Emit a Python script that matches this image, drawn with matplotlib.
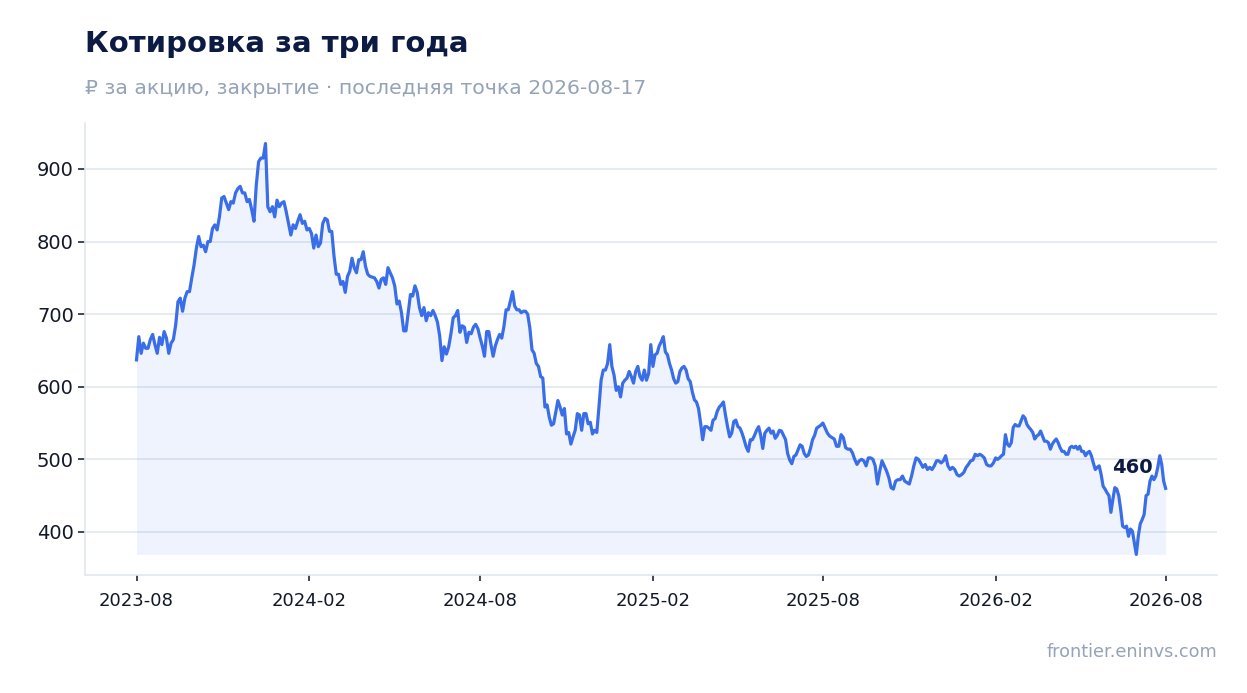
import matplotlib
matplotlib.use("Agg")
import matplotlib.pyplot as plt
import numpy as np
import pandas as pd

# закрытия по полугодиям (примерно каждые 2-3 дня)
bounds = ["2023-08-17", "2024-02-17", "2024-08-17", "2025-02-17",
          "2025-08-17", "2026-02-17", "2026-08-17"]

h1 = [637, 669, 646, 660, 653, 653, 665, 672, 658, 646,
      668, 658, 676, 667, 646, 660, 665, 685, 717, 722,
      704, 722, 731, 731, 750, 768, 791, 807, 793, 795,
      786, 800, 800, 818, 823, 816, 834, 860, 862, 853,
      844, 855, 853, 867, 873, 876, 867, 867, 855, 858,
      844, 828, 878, 910, 915, 915, 935, 848, 841, 848,
      834, 857, 848, 853, 855, 841, 825, 809, 823, 818,
      828, 837, 825, 828, 816]
h2 = [818, 811, 791, 809, 793, 798, 825, 832, 830, 814,
      814, 780, 755, 755, 741, 745, 730, 752, 759, 777,
      764, 757, 775, 775, 786, 766, 755, 752, 751, 750,
      745, 736, 748, 750, 741, 764, 757, 750, 739, 714,
      718, 702, 677, 677, 702, 727, 725, 739, 730, 709,
      698, 709, 691, 702, 698, 705, 698, 689, 670, 636,
      655, 645, 655, 673, 695, 698, 705, 675, 684, 682,
      661, 675, 673, 682, 686, 680]
h3 = [667, 656, 642, 676, 676, 658, 642, 656, 665, 672,
      667, 683, 706, 706, 718, 731, 711, 706, 706, 702,
      704, 704, 700, 681, 651, 646, 632, 628, 614, 612,
      572, 575, 558, 547, 549, 565, 581, 572, 561, 570,
      535, 537, 521, 531, 540, 563, 561, 540, 563, 563,
      549, 551, 535, 540, 537, 572, 609, 623, 623, 632,
      658, 628, 616, 595, 600, 586, 605, 609, 612, 621,
      614, 605, 621, 628, 614, 609, 623, 609, 618, 658]
h4 = [628, 644, 646, 656, 662,
      669, 648, 644, 632, 623, 611, 605, 607, 621, 626,
      628, 623, 611, 607, 593, 582, 579, 570, 550, 527,
      545, 545, 543, 540, 554, 556, 566, 572, 575, 579,
      561, 545, 531, 536, 552, 554, 545, 543, 536, 527,
      517, 511, 527, 527, 533, 540, 545, 533, 515, 536,
      540, 543, 536, 539, 529, 533, 540, 539, 533, 527,
      508, 499, 494, 504, 506, 513, 520, 518, 508, 504,
      506, 515, 527, 533, 543, 545, 547]
h5 = [550, 543, 536,
      532, 530, 528, 518, 518, 534, 530, 516, 514, 514,
      509, 500, 493, 498, 500, 498, 491, 502, 502, 500,
      491, 466, 484, 498, 491, 484, 475, 461, 459, 470,
      472, 472, 477, 470, 468, 466, 477, 491, 502, 500,
      495, 489, 493, 486, 489, 486, 491, 498, 498, 495,
      498, 505, 491, 486, 489, 486, 479, 477, 479, 482,
      489, 493, 498, 499, 507, 505, 507, 505, 502, 493,
      491, 491, 495]
h6 = [502, 500, 502, 505, 507, 534, 521, 518, 523,
      544, 548, 546, 546, 553, 560, 557, 548, 544, 541,
      537, 528, 532, 534, 539, 532, 525, 525, 523, 514,
      521, 525, 528, 523, 516, 511, 511, 507, 507, 516,
      518, 516, 518, 514, 518, 511, 511, 505, 509, 511,
      505, 495, 486, 489, 491, 479, 463, 459, 454, 450,
      427, 445, 461, 459, 450, 431, 408, 406, 408, 394,
      404, 401, 385, 369, 394, 411, 417, 424, 450, 452,
      470, 477, 472, 477, 489, 505, 493, 470, 460]

halves = [h1, h2, h3, h4, h5, h6]
tick_labels = ["2023-08", "2024-02", "2024-08", "2025-02", "2025-08", "2026-02", "2026-08"]

edges = pd.to_datetime(bounds)
dates = []
prices = []
for i, h in enumerate(halves):
    last = i == len(halves) - 1
    rng = pd.date_range(edges[i], edges[i + 1], periods=len(h) + (0 if last else 1))
    if not last:
        rng = rng[:-1]
    dates.extend(rng)
    prices.extend(h)
dates = pd.DatetimeIndex(dates)
prices = np.array(prices, dtype=float)

navy = "#0c1b44"
grey = "#94a3b8"
blue = "#3a6ee8"
gridc = "#e2e8f0"

fig = plt.figure(figsize=(12.47, 6.93), dpi=100)
ax = fig.add_axes([0.0682, 0.1703, 0.9078, 0.6522])

ax.fill_between(dates, prices, prices.min(), color=blue, alpha=0.08, lw=0)
ax.plot(dates, prices, color=blue, lw=2.3, solid_joinstyle="round")

ax.annotate(f"{prices[-1]:.0f}", (dates[-1], prices[-1]), xytext=(-9, 15),
            textcoords="offset points", ha="right", va="center",
            fontsize=14, fontweight="bold", color=navy)

ax.set_xticks(edges)
ax.set_xticklabels(tick_labels)
ax.tick_params(axis="x", labelsize=13, colors="#1f2937", length=4, width=1.2, pad=8)
ax.tick_params(axis="y", labelsize=14, colors="#1f2937", length=5, width=1.2, pad=3)
for t in ax.get_xticklabels() + ax.get_yticklabels():
    t.set_color("#111827")
ax.set_yticks([400, 500, 600, 700, 800, 900])
ax.grid(axis="y", color=gridc, lw=1.2)
ax.set_axisbelow(True)
for s in ["top", "right"]:
    ax.spines[s].set_visible(False)
for s in ["left", "bottom"]:
    ax.spines[s].set_color(gridc)
    ax.spines[s].set_linewidth(1.2)

fig.text(0.0682, 0.937, "Котировка за три года", fontsize=21, fontweight="bold",
         color=navy, va="center")
fig.text(0.0682, 0.873, "₽ за акцию, закрытие · последняя точка 2026-08-17",
         fontsize=14.7, color=grey, va="center")
fig.text(0.976, 0.059, "frontier.eninvs.com", fontsize=12.7, color=grey,
         ha="right", va="center")

fig.savefig("out.png", dpi=100)
